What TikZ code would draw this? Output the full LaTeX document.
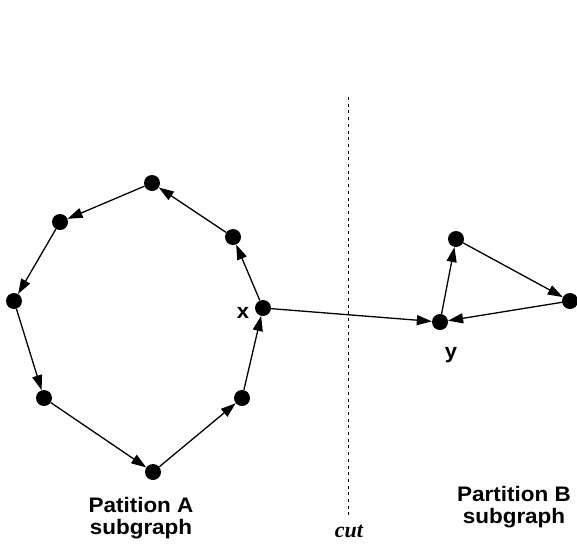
\documentclass[tikz,border=0pt]{standalone}
\usepackage{fontspec}
\setmainfont{Liberation Serif}
\setsansfont{Liberation Sans}
\usetikzlibrary{arrows.meta}
\begin{document}
\begin{tikzpicture}[x=1pt,y=-1pt,
  dot/.style={circle,fill=black,minimum size=16pt,inner sep=0pt},
  edge/.style={line width=1.3pt,-{Triangle[length=15pt,width=10pt]}},
  lbl/.style={font=\sffamily\bfseries\fontsize{21}{22}\selectfont,inner sep=0pt},
  cutline/.style={line width=1pt,dash pattern=on 3pt off 3.7pt}]
\useasboundingbox (0,0) rectangle (577,544);
\node[dot] (a1) at (152,183) {};
\node[dot] (a2) at (60,222) {};
\node[dot] (a3) at (14,301) {};
\node[dot] (a4) at (44,398) {};
\node[dot] (a5) at (153,472) {};
\node[dot] (a6) at (242,398) {};
\node[dot] (x) at (263,308) {};
\node[dot] (a8) at (233,237) {};
\node[dot] (b1) at (456,239) {};
\node[dot] (b2) at (570,301) {};
\node[dot] (y) at (440,322) {};
\draw[edge] (x) -- (a8);
\draw[edge] (a8) -- (a1);
\draw[edge] (a1) -- (a2);
\draw[edge] (a2) -- (a3);
\draw[edge] (a3) -- (a4);
\draw[edge] (a4) -- (a5);
\draw[edge] (a5) -- (a6);
\draw[edge] (a6) -- (x);
\draw[edge] (x) -- (y);
\draw[edge] (y) -- (b1);
\draw[edge] (b1) -- (b2);
\draw[edge] (b2) -- (y);
\coordinate (c1) at (348,97);
\coordinate (c2) at (348,515);
\draw[cutline] (c1) -- (c2);
\node[lbl,anchor=base] (xl) at (243,318) {\scalebox{1.05}[1]{x}};
\node[lbl,anchor=base] (yl) at (451,358) {\scalebox{1.05}[1]{y}};
\node[lbl,anchor=base,align=center] (pa) at (141,534) {\scalebox{1.07}[1]{Patition A}\\\scalebox{1.07}[1]{subgraph}};
\node[lbl,anchor=base,align=center] (pb) at (514,523) {\scalebox{1.07}[1]{Partition B}\\\scalebox{1.07}[1]{subgraph}};
\node[anchor=base,inner sep=0pt,font=\bfseries\itshape\fontsize{22}{22}\selectfont] (cut) at (349,537) {cut};
\end{tikzpicture}
\end{document}
